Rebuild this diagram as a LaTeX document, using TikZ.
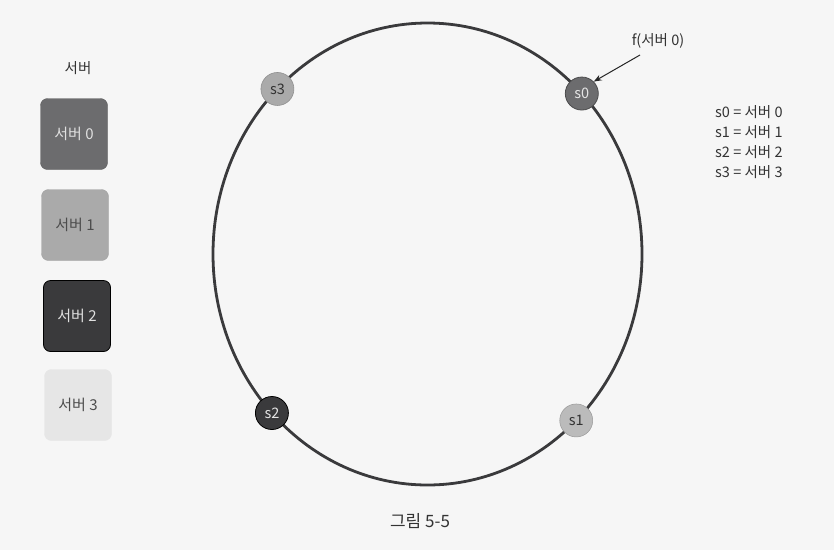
\documentclass[tikz,border=0pt]{standalone}
\usepackage{fontspec}
\setmainfont{Noto Sans CJK KR}
\usetikzlibrary{arrows.meta}
\definecolor{bg}{HTML}{F6F6F6}
\definecolor{ring}{HTML}{3A3A3C}
\definecolor{cA}{HTML}{6C6C6E}
\definecolor{cB}{HTML}{AAAAAA}
\definecolor{cC}{HTML}{3A3A3C}
\definecolor{cD}{HTML}{E6E6E6}
\definecolor{txt}{HTML}{333333}
\tikzset{
  srvbox/.style={rounded corners=7pt, minimum width=67pt, minimum height=71pt, inner sep=0pt, font=\fontsize{15}{17}\selectfont},
  ringnode/.style={circle, minimum size=33pt, inner sep=0pt, font=\fontsize{14.5}{16}\selectfont},
  lbl/.style={font=\fontsize{14.5}{17}\selectfont, text=txt}
}
\begin{document}
\begin{tikzpicture}[x=1pt,y=-1pt]
\fill[bg] (0,0) rectangle (834,550);
\useasboundingbox (0,0) rectangle (834,550);
% ring
\draw[ring, line width=2.8pt] (427.5,254) ellipse [x radius=214.5, y radius=231];
% ring nodes
\node[ringnode, fill=cA, draw=cA!70!black, line width=0.8pt, text=white!90!black] (s0) at ({427.5+214.5*cos(44)},{254-231*sin(44)}) {s0};
\node[ringnode, fill=cB, draw=cB!85!black, line width=0.6pt, text=txt] (s3) at ({427.5+214.5*cos(134.4)},{254-231*sin(134.4)}) {s3};
\node[ringnode, fill=cC, draw=black, line width=0.8pt, text=white!90!black] (s2) at ({427.5+214.5*cos(223.5)},{254-231*sin(223.5)}) {s2};
\node[ringnode, fill=cB!80!white, draw=cB!90!black, line width=0.5pt, text=txt] (s1) at ({427.5+214.5*cos(313.9)},{254-231*sin(313.9)}) {s1};
% arrow label
\node[lbl] (f0) at (658,41) {f(서버 0)};
\coordinate (fa) at (640,55);
\draw[-{Stealth[length=8pt,width=6pt]}, line width=1pt, black!85] (fa) -- (s0.north east);
% legend
\node[lbl, align=left, anchor=north west, inner sep=0pt, font=\fontsize{14.5}{20}\selectfont] (leg) at (715,105) {s0 = 서버 0\\s1 = 서버 1\\s2 = 서버 2\\s3 = 서버 3};
% server boxes
\node[lbl] (title) at (78,68) {서버};
\node[srvbox, fill=cA, draw=cA!85!black, text=white!88!black] (b0) at (74,134) {서버 0};
\node[srvbox, fill=cB, draw=cB!95!black, text=black!70] (b1) at (75,225) {서버 1};
\node[srvbox, fill=cC, draw=black, line width=0.8pt, text=white!88!black] (b2) at (77,316) {서버 2};
\node[srvbox, fill=cD, draw=cD, text=black!70] (b3) at (78,405) {서버 3};
% caption
\node[font=\fontsize{17}{19}\selectfont, text=txt] (cap) at (420,521) {그림 5-5};
\end{tikzpicture}
\end{document}
